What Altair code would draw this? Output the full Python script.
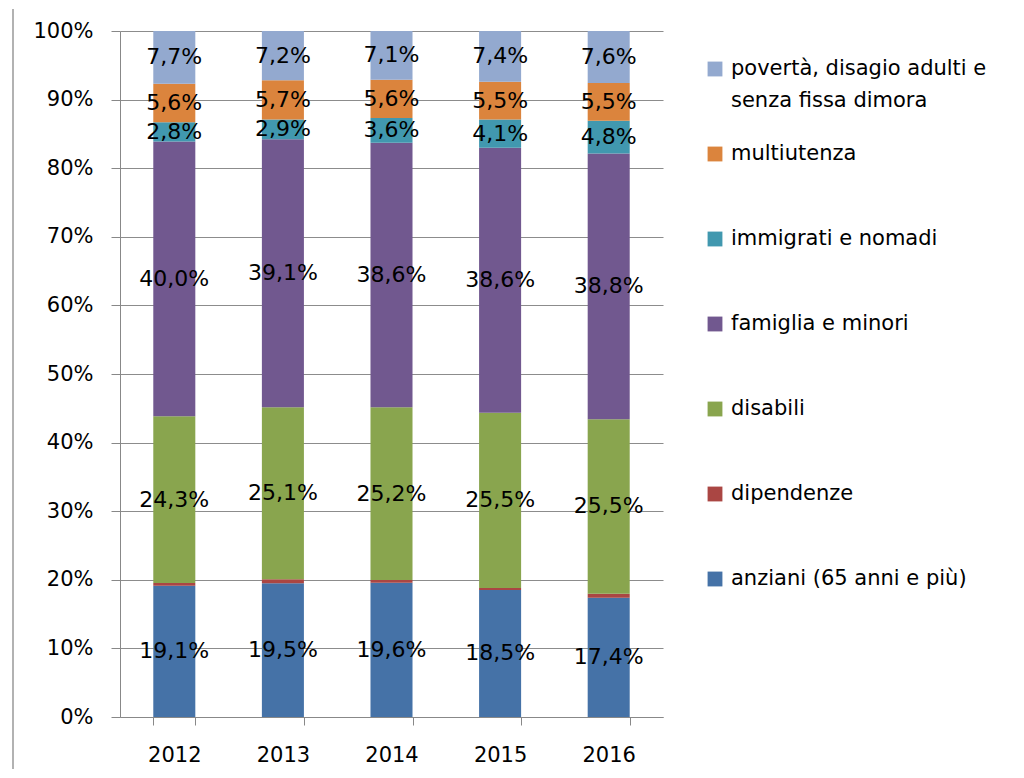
import altair as alt
import pandas as pd

years = ["2012", "2013", "2014", "2015", "2016"]
series = ["anziani (65 anni e più)", "dipendenze", "disabili", "famiglia e minori",
          "immigrati e nomadi", "multiutenza", "povertà, disagio adulti e senza fissa dimora"]
colors = ["#4572A7", "#AA4643", "#89A54E", "#71588F", "#4198AF", "#DB843D", "#93A9CF"]

anziani = [19.1, 19.5, 19.6, 18.5, 17.4]
dipendenze = [0.4, 0.6, 0.4, 0.3, 0.6]
disabili = [24.3, 25.1, 25.2, 25.5, 25.5]
famiglia = [40.0, 39.1, 38.6, 38.6, 38.8]
immigrati = [2.8, 2.9, 3.6, 4.1, 4.8]
multiutenza = [5.6, 5.7, 5.6, 5.5, 5.5]
poverta = [7.7, 7.2, 7.1, 7.4, 7.6]

legend_lines = [["povertà, disagio adulti e", "senza fissa dimora"], ["multiutenza"],
                ["immigrati e nomadi"], ["famiglia e minori"], ["disabili"],
                ["dipendenze"], ["anziani (65 anni e più)"]]

values = [anziani, dipendenze, disabili, famiglia, immigrati, multiutenza, poverta]
show_label = [True, False, True, True, True, True, True]

rows = []
for si, (s, vals) in enumerate(zip(series, values)):
    for y, v in zip(years, vals):
        rows.append({"year": y, "series": s, "order": si, "value": v,
                     "label": (f"{v:.1f}".replace(".", ",") + "%") if show_label[si] else ""})
df = pd.DataFrame(rows)

FONT = "DejaVu Sans"
color_scale = alt.Scale(domain=series, range=colors)

base = alt.Chart(df).transform_stack(
    stack="value", groupby=["year"], sort=[alt.SortField("order")], as_=["s0", "s1"],
    offset="normalize"
).transform_calculate(
    y0="datum.s0 * 100", y1="datum.s1 * 100", mid="(datum.s0 + datum.s1) * 50"
)

xenc = alt.X("year:N", sort=years, title=None,
             scale=alt.Scale(paddingInner=0.613, paddingOuter=0.3065),
             axis=alt.Axis(labelAngle=0, labelFontSize=21, labelFont=FONT, labelColor="#000",
                           tickBand="extent", tickSize=8, tickColor="#888", domainColor="#888",
                           labelPadding=19, grid=False))

bars = base.mark_bar().encode(
    x=xenc,
    y=alt.Y("y0:Q", title=None, scale=alt.Scale(domain=[0, 100], nice=False),
            axis=alt.Axis(values=list(range(0, 101, 10)), labelExpr="datum.value + '%'",
                          labelFontSize=21, labelFont=FONT, labelColor="#000",
                          tickSize=9, tickColor="#888", domainColor="#888", labelPadding=18,
                          grid=True, gridColor="#8c8c8c", gridWidth=1.2)),
    y2="y1:Q",
    color=alt.Color("series:N", scale=color_scale, legend=None),
)

texts = base.mark_text(fontSize=22, font=FONT, color="#000", baseline="middle").encode(
    x=alt.X("year:N", sort=years),
    y=alt.Y("mid:Q"),
    text="label:N",
)

frame = alt.Chart(pd.DataFrame({"a": [0]})).mark_rule(color="#999", strokeWidth=1.5).encode(
    x=alt.value(-107), y=alt.value(-22), y2=alt.value(738)
)

main = alt.layer(bars, texts, frame).properties(width=543, height=686)

leg_rows = []
for i, lines in enumerate(legend_lines):
    key = series[len(series) - 1 - i]
    for li, t in enumerate(lines):
        leg_rows.append({"series": key, "text": t, "line": li})
ldf = pd.DataFrame(leg_rows)
order_top = list(reversed(series))

yleg = alt.Y("series:N", sort=order_top, axis=None,
             scale=alt.Scale(type="point", range=[38, 548], padding=0))

sym = alt.Chart(ldf).transform_filter("datum.line == 0").mark_square(size=220, opacity=1).encode(
    x=alt.value(52), y=yleg, color=alt.Color("series:N", scale=color_scale, legend=None)
)
lab1 = alt.Chart(ldf).transform_filter("datum.line == 0").mark_text(
    align="left", baseline="middle", fontSize=21, font=FONT, color="#000").encode(
    x=alt.value(68), y=yleg, text="text:N")
lab2 = alt.Chart(ldf).transform_filter("datum.line == 1").mark_text(
    align="left", baseline="middle", fontSize=21, font=FONT, color="#000", dy=32).encode(
    x=alt.value(68), y=yleg, text="text:N")

legend = alt.layer(sym, lab1, lab2).properties(width=330, height=686)

chart = alt.hconcat(main, legend, spacing=0).properties(
    padding={"left": 4, "top": 0, "right": 0, "bottom": 0}
).configure_view(stroke=None)

chart.save("out.html", embed_options={"renderer": "svg", "actions": False})
